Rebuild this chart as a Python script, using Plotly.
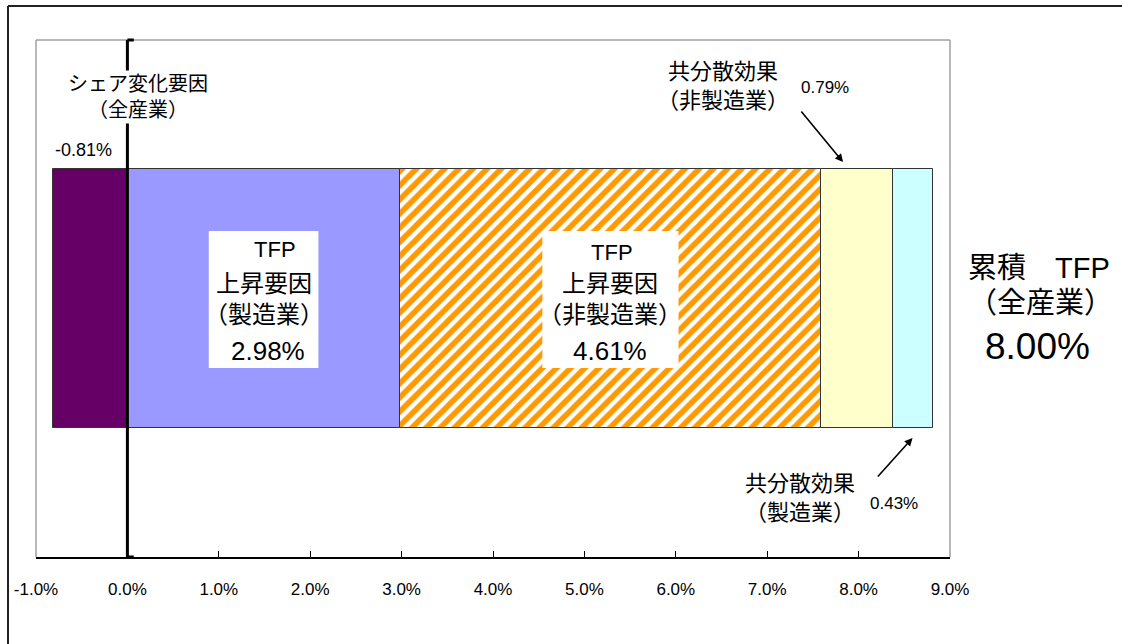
import plotly.graph_objects as go

# Contributions to cumulative TFP growth (percentage points)
segment_names = ["シェア変化要因（全産業）", "TFP上昇要因（製造業）", "TFP上昇要因（非製造業）",
                 "共分散効果（非製造業）", "共分散効果（製造業）"]
segment_values = [-0.81, 2.98, 4.61, 0.79, 0.43]
segment_colors = ["#660066", "#9999FF", "#FFFFFF", "#FFFFCC", "#CCFFFF"]
total_tfp = 8.00

tick_values = [-1, 0, 1, 2, 3, 4, 5, 6, 7, 8, 9]
tick_labels = ["-1.0%", "0.0%", "1.0%", "2.0%", "3.0%", "4.0%", "5.0%", "6.0%", "7.0%", "8.0%", "9.0%"]

FONT = "Liberation Sans, Arial, Noto Sans CJK JP, sans-serif"

W, H = 1122, 644
L, R, T, B = 36, 172, 40, 87
PW, PH = W - L - R, H - T - B


def py(y_px):
    """pixel row -> paper y"""
    return (H - B - y_px) / PH


def px(x_px):
    """pixel column -> paper x"""
    return (x_px - L) / PW


fig = go.Figure()

for i, (name, val, col) in enumerate(zip(segment_names, segment_values, segment_colors)):
    marker = dict(color=col, line=dict(color="#333333", width=1))
    if i == 2:
        marker["pattern"] = dict(shape="/", fgcolor="#FF9900", bgcolor="#FFFFFF",
                                 fgopacity=1, size=10, solidity=0.55)
    fig.add_trace(go.Bar(x=[val], y=[0], orientation="h", width=1.0,
                         marker=marker, name=name, showlegend=False, hoverinfo="skip"))

# cumulative bounds of the stacked positive segments
starts = [0.0]
for v in segment_values[1:]:
    starts.append(starts[-1] + v)
mid_mfg = starts[0] + segment_values[1] / 2
mid_nonmfg = starts[1] + segment_values[2] / 2

shapes = []
# outer frame (top and left edges)
shapes.append(dict(type="line", xref="paper", yref="paper", x0=px(8), x1=1.3, y0=py(6), y1=py(6),
                   line=dict(color="#222222", width=2)))
shapes.append(dict(type="line", xref="paper", yref="paper", x0=px(8), x1=px(8), y0=py(6), y1=-0.3,
                   line=dict(color="#222222", width=2)))
# plot area border
for (x0, y0, x1, y1) in [(0, 1, 1, 1), (0, 0, 0, 1), (1, 0, 1, 1)]:
    shapes.append(dict(type="line", xref="paper", yref="paper", x0=x0, x1=x1, y0=y0, y1=y1,
                       line=dict(color="#A0A0A0", width=1.5)))
# zero line with end flags
shapes.append(dict(type="line", xref="x", yref="paper", x0=0, x1=0, y0=0, y1=1,
                   line=dict(color="black", width=3), layer="above"))
for yy in (0, 1):
    shapes.append(dict(type="line", xref="x", yref="paper", x0=0, x1=0.07, y0=yy, y1=yy,
                       line=dict(color="black", width=3), layer="above"))

# white label boxes on the two TFP segments
box_w = [1.2, 1.49]
for cx, bw in zip([mid_mfg, mid_nonmfg], box_w):
    shapes.append(dict(type="rect", xref="x", yref="paper", x0=cx - bw / 2, x1=cx + bw / 2,
                       y0=py(368), y1=py(231), fillcolor="white", line=dict(width=0), layer="above"))

annotations = []


def txt(x, y, text, size, xref="x", yref="paper", **kw):
    annotations.append(dict(x=x, y=y, xref=xref, yref=yref, text=text, showarrow=False,
                            xanchor="center", yanchor="middle",
                            font=dict(family=FONT, size=size, color="black"), **kw))


# TFP (manufacturing)
txt(mid_mfg + 0.13, py(250), "TFP", 22)
txt(mid_mfg, py(283), "上昇要因", 24)
txt(mid_mfg, py(314), "（製造業）", 24)
txt(mid_mfg + 0.05, py(351), f"{segment_values[1]:.2f}%", 26)

# TFP (non-manufacturing)
txt(mid_nonmfg + 0.02, py(252), "TFP", 22)
txt(mid_nonmfg, py(283), "上昇要因", 24)
txt(mid_nonmfg, py(314), "（非製造業）", 24)
txt(mid_nonmfg, py(351), f"{segment_values[2]:.2f}%", 26)

# share change
txt(0.12, py(97), "シェア変化要因<br>（全産業）", 20, bgcolor="white", borderpad=2)
txt(segment_values[0] / 2 - 0.07, py(150), f"{segment_values[0]:.2f}%", 18)

# covariance effects
txt(6.52, py(86), "共分散効果<br>（非製造業）", 22)
txt(7.63, py(88), f"{segment_values[3]:.2f}%", 17)
annotations.append(dict(x=7.83, y=py(162), xref="x", yref="paper", text="", showarrow=True,
                        ax=-43, ay=-52, arrowhead=2, arrowsize=1, arrowwidth=1.6, arrowcolor="black"))

txt(7.36, py(498), "共分散効果<br>（製造業）", 22)
txt(8.39, py(503), f"{segment_values[4]:.2f}%", 17)
annotations.append(dict(x=8.59, y=py(438), xref="x", yref="paper", text="", showarrow=True,
                        ax=-36, ay=40, arrowhead=2, arrowsize=1, arrowwidth=1.6, arrowcolor="black"))

# cumulative total
txt(px(1039), py(268), "累積　TFP", 29, xref="paper")
txt(px(1040), py(303), "（全産業）", 29, xref="paper")
txt(px(1037), py(346), f"{total_tfp:.2f}%", 37, xref="paper")

fig.update_layout(
    width=W, height=H,
    margin=dict(l=L, r=R, t=T, b=B, autoexpand=False),
    paper_bgcolor="white", plot_bgcolor="white",
    barmode="relative", bargap=0,
    shapes=shapes, annotations=annotations,
    xaxis=dict(range=[-1, 9], tickvals=tick_values, ticktext=tick_labels,
               showgrid=False, zeroline=False, showline=True, linecolor="black", linewidth=1.5,
               ticks="inside", ticklen=6, tickcolor="black", tickwidth=1,
               tickfont=dict(family=FONT, size=17, color="black"), ticklabelstandoff=16),
    yaxis=dict(range=[-1, 1], visible=False, fixedrange=True),
)

fig.write_html("out.html")
